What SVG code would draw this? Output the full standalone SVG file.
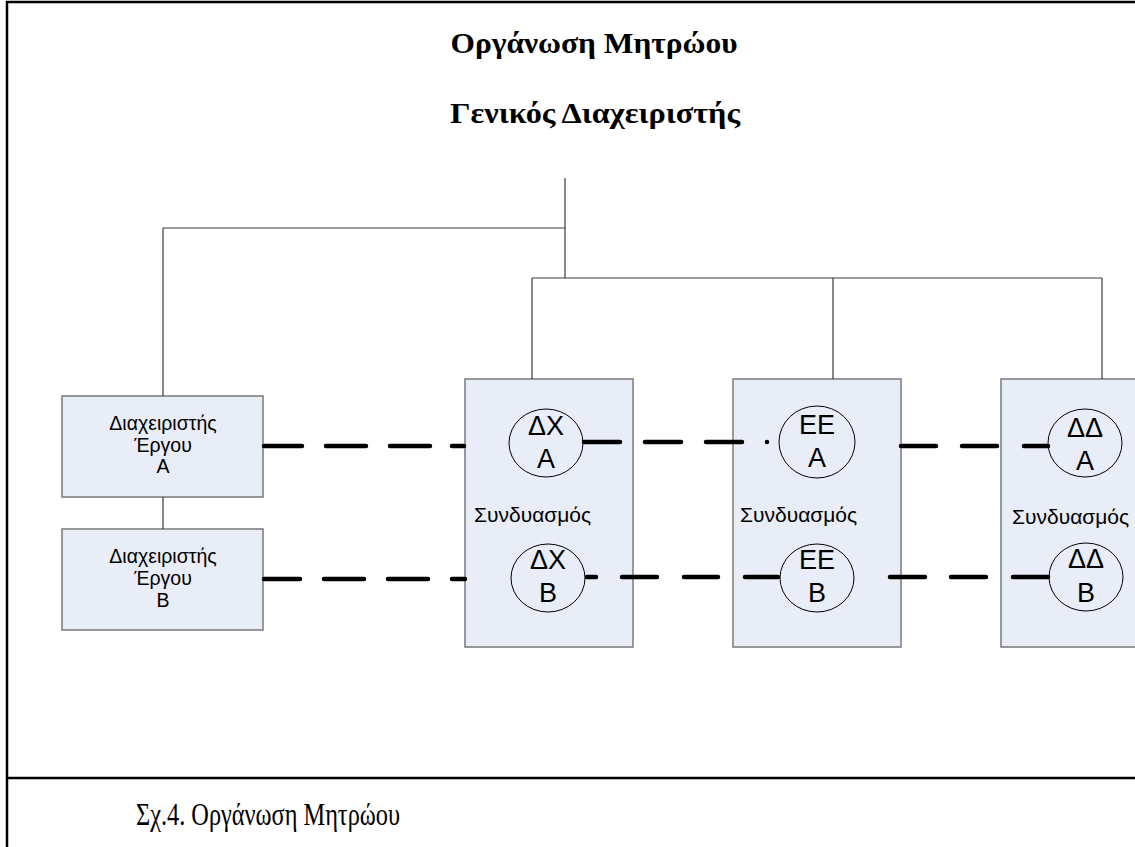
<svg xmlns="http://www.w3.org/2000/svg" width="1135" height="847" viewBox="0 0 1135 847">
<style>
.frame{stroke:#000;stroke-width:2.5;fill:none}
.tree{stroke:#3a3a3a;stroke-width:1.2;fill:none}
.box{fill:#e8edf7;stroke:#7a7a7a;stroke-width:1.5}
.circ{fill:none;stroke:#000;stroke-width:1}
.dash{stroke:#000;stroke-width:4.5;stroke-linecap:round;fill:none}
.title{font-family:"Liberation Serif","Times New Roman",serif;font-weight:bold;font-size:29px;text-anchor:middle;fill:#000}
.cap{font-family:"Liberation Serif","Times New Roman",serif;font-size:31px;fill:#000}
.lbl{font-family:"Liberation Sans",Arial,sans-serif;font-size:19.5px;text-anchor:middle;fill:#000}
.comb{font-family:"Liberation Sans",Arial,sans-serif;font-size:21px;fill:#000}
.ct{font-family:"Liberation Sans",Arial,sans-serif;font-size:27px;text-anchor:middle;fill:#000}
</style>
<rect x="0" y="0" width="1135" height="847" fill="#fff"/>
<g id="frame">
<path class="frame" d="M7 847V2H1135"/>
<path class="frame" d="M7 778H1135"/>
</g>
<g id="titles">
<text class="title" x="594" y="53" textLength="287" lengthAdjust="spacingAndGlyphs">Οργάνωση Μητρώου</text>
<text class="title" x="595" y="123" textLength="290" lengthAdjust="spacingAndGlyphs">Γενικός Διαχειριστής</text>
</g>
<g id="pmA">
<rect class="box" x="62" y="396" width="201" height="101"/>
<text class="lbl" x="163" y="430">Διαχειριστής</text>
<text class="lbl" x="163" y="452">Έργου</text>
<text class="lbl" x="163" y="473">A</text>
</g>
<g id="pmB">
<rect class="box" x="62" y="529" width="201" height="101"/>
<text class="lbl" x="163" y="563">Διαχειριστής</text>
<text class="lbl" x="163" y="585">Έργου</text>
<text class="lbl" x="163" y="607">B</text>
</g>
<g id="comb1">
<rect class="box" x="465" y="379" width="168" height="268"/>
<text class="comb" x="474" y="522">Συνδυασμός</text>
</g>
<g id="comb2">
<rect class="box" x="733" y="379" width="168" height="268"/>
<text class="comb" x="740" y="522">Συνδυασμός</text>
</g>
<g id="comb3">
<rect class="box" x="1001" y="379" width="140" height="268"/>
<text class="comb" x="1012" y="524">Συνδυασμός</text>
</g>
<g id="dxA">
<ellipse class="circ" cx="546" cy="443" rx="37" ry="34"/>
<text class="ct" x="546" y="435">ΔΧ</text>
<text class="ct" x="546" y="468">A</text>
</g>
<g id="dxB">
<ellipse class="circ" cx="548" cy="578" rx="37" ry="34"/>
<text class="ct" x="548" y="569">ΔΧ</text>
<text class="ct" x="548" y="602">B</text>
</g>
<g id="eeA">
<ellipse class="circ" cx="817" cy="442" rx="38" ry="36"/>
<text class="ct" x="817" y="434">EE</text>
<text class="ct" x="817" y="467">A</text>
</g>
<g id="eeB">
<ellipse class="circ" cx="817" cy="578" rx="37" ry="34"/>
<text class="ct" x="817" y="569">EE</text>
<text class="ct" x="817" y="602">B</text>
</g>
<g id="ddA">
<ellipse class="circ" cx="1085" cy="443" rx="37" ry="34"/>
<text class="ct" x="1085" y="437">ΔΔ</text>
<text class="ct" x="1085" y="470">A</text>
</g>
<g id="ddB">
<ellipse class="circ" cx="1086" cy="577" rx="37" ry="34"/>
<text class="ct" x="1086" y="568">ΔΔ</text>
<text class="ct" x="1086" y="602">B</text>
</g>
<g id="connectors">
<path class="tree" d="M565 178V278M163 228H565M163 228V396M532 278H1102M532 278V379M833 278V379M1102 278V379M163 497V529"/>
<path class="dash" d="M264 446H302M326 446H366M390 446H430M452 446H464"/>
<path class="dash" d="M264 579H300M324 579H364M388 579H428M452 579H465"/>
<path class="dash" d="M584 442H620M645 442H681M706 442H742M767 442H767"/>
<path class="dash" d="M587 577H596M622 577H657M684 577H718M745 577H778"/>
<path class="dash" d="M901 446H936M962 446H997M1024 446H1048"/>
<path class="dash" d="M890 577H925M951 577H986M1013 577H1048"/>
</g>
<g id="caption">
<text class="cap" x="136" y="825" textLength="264" lengthAdjust="spacingAndGlyphs">Σχ.4. Οργάνωση Μητρώου</text>
</g>
</svg>
